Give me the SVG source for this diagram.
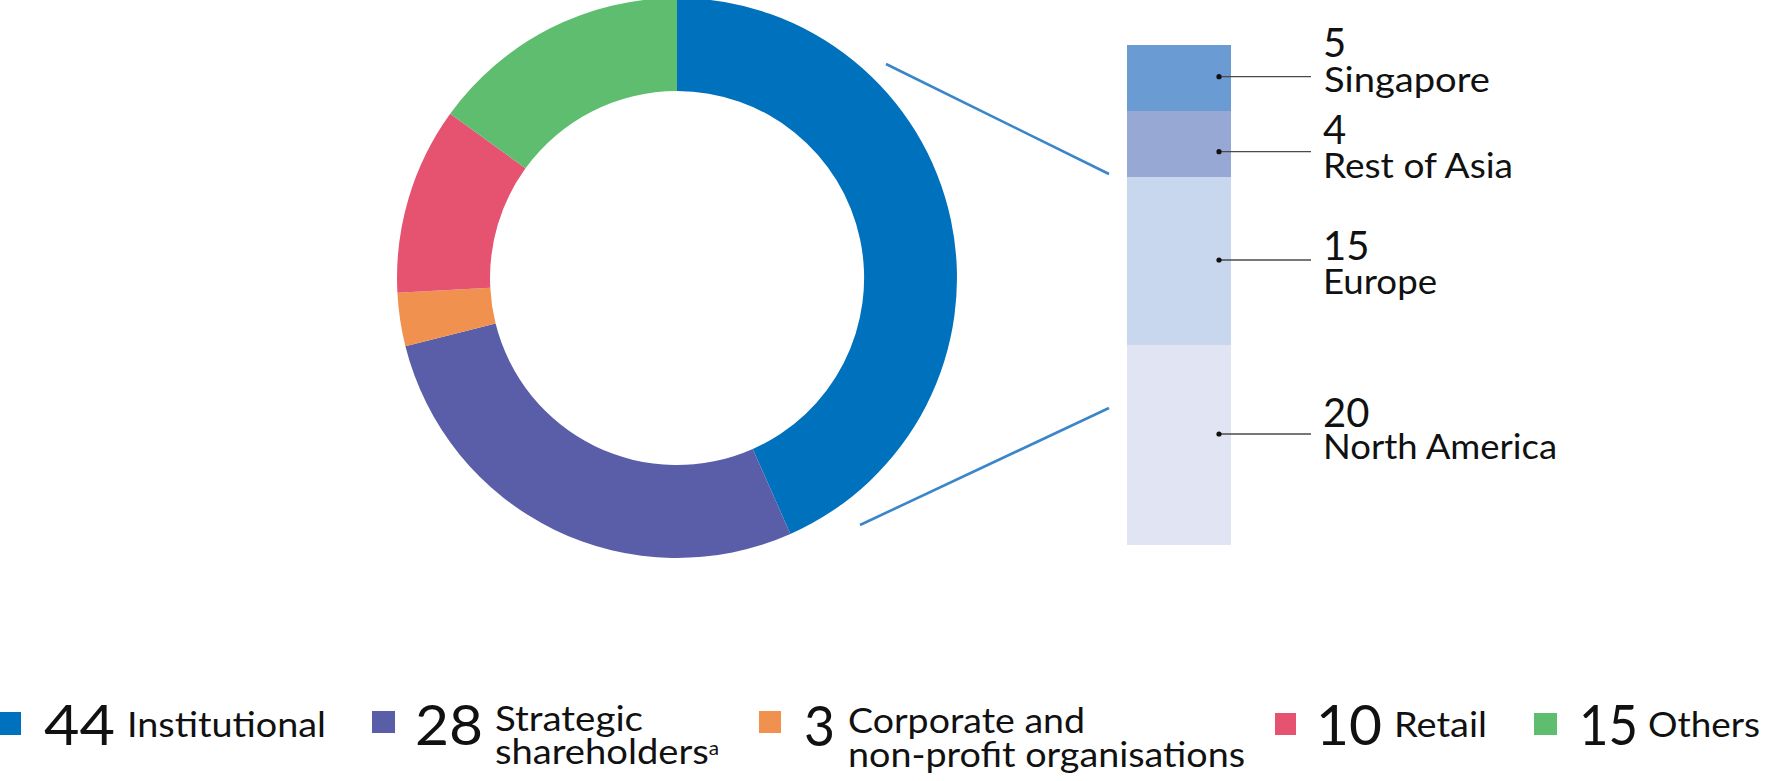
<svg xmlns="http://www.w3.org/2000/svg" width="1775" height="781" viewBox="0 0 1775 781">
<style>
text{font-family:Lato,"Liberation Sans",sans-serif;fill:#111}
.num{font-size:56px}
.lbl{font-size:35px}
.rnum{font-size:40px}
.rlbl{font-size:35px}
.lead{stroke:#4a4a4a;stroke-width:1.3;fill:none}
.conn{stroke:#3a86c8;stroke-width:2.6;fill:none}
</style>
<rect width="1775" height="781" fill="#fff"/>
<g id="donut">
<path id="seg-institutional" fill="#0071bc" d="M677,-2 A280,280 0 0 1 790.4,534 L752.8,449 A187,187 0 0 0 677,91 Z"/>
<path id="seg-strategic" fill="#5a5ea8" d="M790.4,534 A280,280 0 0 1 405.4,346.2 L495.6,323.6 A187,187 0 0 0 752.8,449 Z"/>
<path id="seg-corporate" fill="#f09150" d="M405.4,346.2 A280,280 0 0 1 397.4,292.7 L490.3,287.8 A187,187 0 0 0 495.6,323.6 Z"/>
<path id="seg-retail" fill="#e55371" d="M397.4,292.7 A280,280 0 0 1 450.2,113.8 L525.5,168.3 A187,187 0 0 0 490.3,287.8 Z"/>
<path id="seg-others" fill="#5fbd6f" d="M450.2,113.8 A280,280 0 0 1 677,-2 L677,91 A187,187 0 0 0 525.5,168.3 Z"/>
</g>
<g id="connectors">
<line class="conn" x1="886" y1="64" x2="1109" y2="174"/>
<line class="conn" x1="860" y1="525" x2="1109" y2="408"/>
</g>
<g id="bar">
<g id="bar-singapore">
<rect x="1127" y="45" width="104" height="66" fill="#6b9bd3"/>
<line class="lead" x1="1219" y1="76.7" x2="1311" y2="76.7"/>
<circle cx="1219" cy="76.7" r="2.6" fill="#111"/>
<text class="rnum" x="1323" y="57">5</text>
<text class="rlbl" x="1324" y="92" textLength="166" lengthAdjust="spacingAndGlyphs">Singapore</text>
</g>
<g id="bar-restofasia">
<rect x="1127" y="111" width="104" height="66" fill="#97a8d5"/>
<line class="lead" x1="1219" y1="151.7" x2="1311" y2="151.7"/>
<circle cx="1219" cy="151.7" r="2.6" fill="#111"/>
<text class="rnum" x="1323" y="144">4</text>
<text class="rlbl" x="1323" y="177.5" textLength="190" lengthAdjust="spacingAndGlyphs">Rest of Asia</text>
</g>
<g id="bar-europe">
<rect x="1127" y="177" width="104" height="168" fill="#c8d7ee"/>
<line class="lead" x1="1219" y1="260" x2="1311" y2="260"/>
<circle cx="1219" cy="260" r="2.6" fill="#111"/>
<text class="rnum" x="1323" y="259.5">15</text>
<text class="rlbl" x="1323" y="293.5" textLength="114" lengthAdjust="spacingAndGlyphs">Europe</text>
</g>
<g id="bar-northamerica">
<rect x="1127" y="345" width="104" height="200" fill="#e0e4f3"/>
<line class="lead" x1="1219" y1="434" x2="1311" y2="434"/>
<circle cx="1219" cy="434" r="2.6" fill="#111"/>
<text class="rnum" x="1323" y="426.5">20</text>
<text class="rlbl" x="1323" y="459" textLength="234" lengthAdjust="spacingAndGlyphs">North America</text>
</g>
</g>
<g id="legend">
<g id="legend-institutional">
<rect x="0" y="712" width="21" height="23" fill="#0071bc"/>
<text class="num" x="44" y="745" textLength="71" lengthAdjust="spacingAndGlyphs">44</text>
<text class="lbl" x="127" y="737" textLength="199" lengthAdjust="spacingAndGlyphs">Institutional</text>
</g>
<g id="legend-strategic">
<rect x="372" y="711" width="23" height="22" fill="#5a5ea8"/>
<text class="num" x="415" y="745" textLength="68" lengthAdjust="spacingAndGlyphs">28</text>
<text class="lbl" x="495" y="731" textLength="148" lengthAdjust="spacingAndGlyphs">Strategic</text>
<text class="lbl" x="495" y="764" textLength="224" lengthAdjust="spacingAndGlyphs">shareholders<tspan font-size="19" dy="-9">a</tspan></text>
</g>
<g id="legend-corporate">
<rect x="759" y="711" width="22" height="22" fill="#f09150"/>
<text class="num" x="804" y="746" textLength="31" lengthAdjust="spacingAndGlyphs">3</text>
<text class="lbl" x="848" y="733" textLength="237" lengthAdjust="spacingAndGlyphs">Corporate and</text>
<text class="lbl" x="848" y="767" textLength="397" lengthAdjust="spacingAndGlyphs">non-profit organisations</text>
</g>
<g id="legend-retail">
<rect x="1275" y="713" width="21" height="22" fill="#e55371"/>
<text class="num" x="1316" y="745" textLength="66" lengthAdjust="spacingAndGlyphs">10</text>
<text class="lbl" x="1394" y="737" textLength="93" lengthAdjust="spacingAndGlyphs">Retail</text>
</g>
<g id="legend-others">
<rect x="1534" y="713" width="23" height="22" fill="#5fbd6f"/>
<text class="num" x="1579" y="745" textLength="59" lengthAdjust="spacingAndGlyphs">15</text>
<text class="lbl" x="1648" y="737" textLength="112" lengthAdjust="spacingAndGlyphs">Others</text>
</g>
</g>
</svg>
